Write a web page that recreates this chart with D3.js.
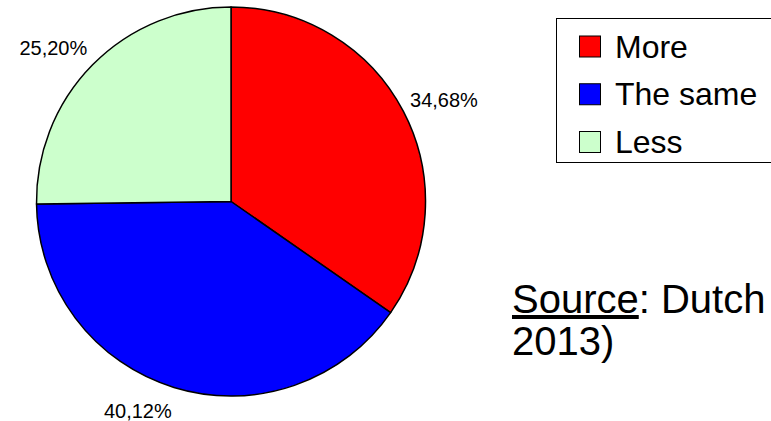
<!DOCTYPE html>
<html>
<head>
<meta charset="utf-8">
<script src="https://cdn.jsdelivr.net/npm/d3@7"></script>
<style>
  html, body { margin: 0; padding: 0; background: #fff; }
  svg { display: block; font-family: Arial, "Liberation Sans", sans-serif; }
</style>
</head>
<body>
<svg id="chart" width="771" height="421"></svg>
<script>
const categories = ["More", "The same", "Less"];
const values = [34.68, 40.12, 25.20];
const valueLabels = ["34,68%", "40,12%", "25,20%"];
const colors = ["#ff0000", "#0000ff", "#ccffcc"];

const svg = d3.select("#chart");
const cx = 231, cy = 201.5, r = 194.5;

const pie = d3.pie().sort(null).value(d => d.value);
const data = categories.map((c, i) => ({ cat: c, value: values[i], label: valueLabels[i], color: colors[i] }));
const arcs = pie(data);
const arc = d3.arc().innerRadius(0).outerRadius(r);

const g = svg.append("g").attr("transform", `translate(${cx},${cy})`);
g.selectAll("path").data(arcs).join("path")
  .attr("d", arc)
  .attr("fill", d => d.data.color)
  .attr("stroke", "#000")
  .attr("stroke-width", 1.5)
  .attr("stroke-linejoin", "round");

// value labels outside the pie
const labelFont = 20, gap = 7.5, vPush = 17;
g.selectAll("text.val").data(arcs).join("text")
  .attr("class", "val")
  .each(function(d) {
    const a = (d.startAngle + d.endAngle) / 2;
    const s = Math.sin(a), c = Math.cos(a);
    const x = (r + gap) * s;
    const y = -(r + gap) * c - c * vPush;
    d3.select(this)
      .attr("x", x).attr("y", y)
      .attr("text-anchor", s >= 0 ? "start" : "end");
  })
  .attr("dominant-baseline", "central")
  .attr("font-size", labelFont)
  .attr("fill", "#000")
  .text(d => d.data.label);

// legend
const lg = svg.append("g");
lg.append("rect")
  .attr("x", 556.5).attr("y", 18.5)
  .attr("width", 260).attr("height", 144)
  .attr("fill", "#fff").attr("stroke", "#000").attr("stroke-width", 1);
const rows = lg.selectAll("g.row").data(data).join("g")
  .attr("class", "row")
  .attr("transform", (d, i) => `translate(579, ${46.5 + i * 47.75})`);
rows.append("rect")
  .attr("x", 0.5).attr("y", -10.5)
  .attr("width", 21).attr("height", 21)
  .attr("fill", d => d.color).attr("stroke", "#000").attr("stroke-width", 1);
rows.append("text")
  .attr("x", 36).attr("y", 0)
  .attr("dominant-baseline", "central")
  .attr("font-size", 32)
  .text(d => d.cat);

// source note
const src = svg.append("text")
  .attr("x", 512).attr("y", 313)
  .attr("font-size", 40);
src.append("tspan").attr("text-decoration", "underline").text("Source");
src.append("tspan").text(": Dutch");
svg.append("text")
  .attr("x", 512).attr("y", 355)
  .attr("font-size", 40)
  .text("2013)");
</script>
</body>
</html>
